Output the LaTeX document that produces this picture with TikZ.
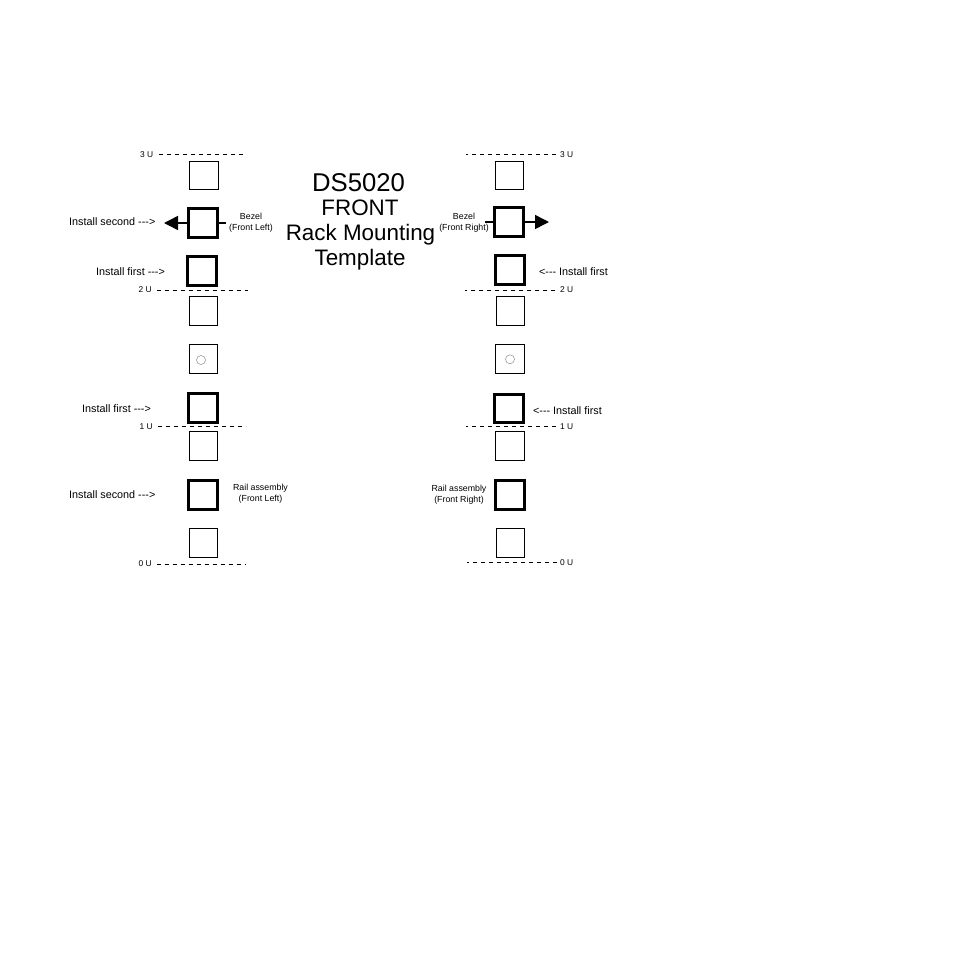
\documentclass[tikz,border=0pt]{standalone}
\usepackage{fontspec}
\setmainfont{Liberation Sans}
\usetikzlibrary{
	arrows.meta
}
\begin{document}
\begin{tikzpicture}[
			x=1pt, y=-1pt,
			HoleStyle/.style={draw, line width=0.8pt, minimum size=28.2pt, inner sep=0pt, outer sep=0pt},
			MountStyle/.style={draw, line width=3pt, minimum size=28.5pt, inner sep=0pt, outer sep=0pt},
			PinStyle/.style={draw=black!45, line width=0.5pt, circle, minimum size=9pt, inner sep=0pt},
			UnitStyle/.style={font=\fontsize{8.4}{10}\selectfont, inner sep=0pt},
			NoteStyle/.style={font=\fontsize{10.8}{12}\selectfont, inner sep=0pt},
			PartStyle/.style={font=\fontsize{8.8}{11}\selectfont, inner sep=0pt, align=center},
			TitleStyle/.style={font=\fontsize{22.4}{26}\selectfont, inner sep=0pt, anchor=base},
			RuleStyle/.style={line width=0.8pt, dash pattern=on 4pt off 4pt},
			PullStyle/.style={line width=1.5pt, -{Triangle[length=14pt, width=14pt]}},
			StubStyle/.style={line width=1.5pt}]
		\useasboundingbox (0,0) rectangle (954,954);
		% left column
		\node [HoleStyle] (L1) at (203.8,175) {};
		\node [MountStyle] (L2) at (202.8,223) {};
		\node [MountStyle] (L3) at (201.8,271) {};
		\node [HoleStyle] (L4) at (203,310.8) {};
		\node [HoleStyle] (L5) at (203,358.8) {};
		\node [PinStyle] (pinL) at (201,360) {};
		\node [MountStyle] (L6) at (202.8,407.8) {};
		\node [HoleStyle] (L7) at (203,445.8) {};
		\node [MountStyle] (L8) at (202.8,495) {};
		\node [HoleStyle] (L9) at (203,542.8) {};
		% right column
		\node [HoleStyle] (R1) at (509,175) {};
		\node [MountStyle] (R2) at (508.8,222) {};
		\node [MountStyle] (R3) at (510,270) {};
		\node [HoleStyle] (R4) at (510.5,310.8) {};
		\node [HoleStyle] (R5) at (509.8,358.8) {};
		\node [PinStyle] (pinR) at (510,359.3) {};
		\node [MountStyle] (R6) at (509,408.3) {};
		\node [HoleStyle] (R7) at (509.8,445.8) {};
		\node [MountStyle] (R8) at (510,495) {};
		\node [HoleStyle] (R9) at (510.5,542.8) {};
		% unit marks
		\node [UnitStyle, anchor=east] (3UL) at (153.5,154.3) {3 U};
		\node [UnitStyle, anchor=east] (2UL) at (152,290) {2 U};
		\node [UnitStyle, anchor=east] (1UL) at (153,426.7) {1 U};
		\node [UnitStyle, anchor=east] (0UL) at (152,564) {0 U};
		\node [UnitStyle, anchor=west] (3UR) at (560,154.3) {3 U};
		\node [UnitStyle, anchor=west] (2UR) at (560,290) {2 U};
		\node [UnitStyle, anchor=west] (1UR) at (560,426.7) {1 U};
		\node [UnitStyle, anchor=west] (0UR) at (560,562.3) {0 U};
		\coordinate (3ULend) at (245,154.3);
		\coordinate (2ULend) at (248,290);
		\coordinate (1ULend) at (246,426.7);
		\coordinate (0ULend) at (246,564);
		\coordinate (3URend) at (466,154.3);
		\coordinate (2URend) at (465,290);
		\coordinate (1URend) at (466,426.7);
		\coordinate (0URend) at (467,562.3);
		\draw [RuleStyle] (3UL.east) ++(5pt,0) -- (3ULend);
		\draw [RuleStyle] (2UL.east) ++(5pt,0) -- (2ULend);
		\draw [RuleStyle] (1UL.east) ++(5pt,0) -- (1ULend);
		\draw [RuleStyle] (0UL.east) ++(5pt,0) -- (0ULend);
		\draw [RuleStyle] (3UR.west) ++(-4pt,0) -- (3URend);
		\draw [RuleStyle] (2UR.west) ++(-5pt,0) -- (2URend);
		\draw [RuleStyle] (1UR.west) ++(-4pt,0) -- (1URend);
		\draw [RuleStyle] (0UR.west) ++(-3pt,0) -- (0URend);
		% bezel arrows
		\coordinate (tipL) at (164,223);
		\coordinate (stubL) at (225.7,223);
		\coordinate (tipR) at (549,222);
		\coordinate (stubR) at (485,222);
		\draw [PullStyle] (L2.west) -- (tipL);
		\draw [StubStyle] (L2.east) -- (stubL);
		\draw [PullStyle] (R2.east) -- (tipR);
		\draw [StubStyle] (R2.west) -- (stubR);
		% notes
		\node [NoteStyle, anchor=west] (noteL2) at (69,222) {Install second -{}-{}->};
		\node [NoteStyle, anchor=west] (noteL3) at (96,271.5) {Install first -{}-{}->};
		\node [NoteStyle, anchor=west] (noteL6) at (82,408.5) {Install first -{}-{}->};
		\node [NoteStyle, anchor=west] (noteL8) at (69,495) {Install second -{}-{}->};
		\node [NoteStyle, anchor=east] (noteR3) at (608,271.5) {<-{}-{}- Install first};
		\node [NoteStyle, anchor=east] (noteR6) at (602,411) {<-{}-{}- Install first};
		% part names
		\node [PartStyle] (bezelL) at (251,223) {Bezel\\(Front Left)};
		\node [PartStyle] (bezelR) at (464,223) {Bezel\\(Front Right)};
		\node [PartStyle] (railL) at (260.5,494) {Rail assembly\\(Front Left)};
		\node [PartStyle] (railR) at (459,495) {Rail assembly\\(Front Right)};
		% title
		\node [TitleStyle, font=\fontsize{25.7}{30}\selectfont] (title1) at (358.6,191.7) {DS5020};
		\node [TitleStyle] (title2) at (360,215.7) {FRONT};
		\node [TitleStyle] (title3) at (360.5,240.3) {Rack Mounting};
		\node [TitleStyle] (title4) at (360,265.7) {Template};
\end{tikzpicture}
\end{document}
